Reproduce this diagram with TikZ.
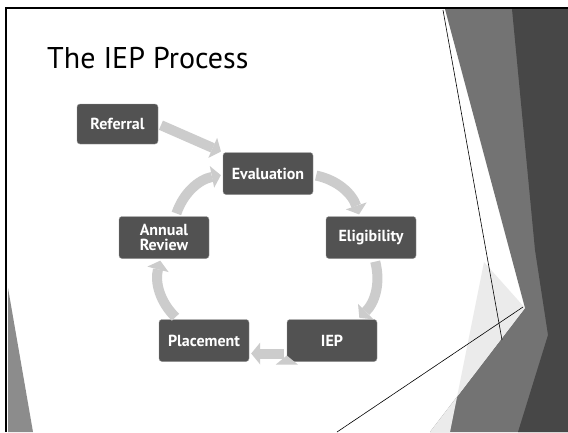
\documentclass[tikz,border=0pt]{standalone}
\usepackage{fontspec}
\setmainfont{PT Sans}
\usetikzlibrary{arrows.meta}

\begin{document}
\begin{tikzpicture}[x=1pt,y=-1pt]
  \tikzstyle{iepbox}=[rectangle,rounded corners=3pt,fill=black!68,draw=black!40,
                      text=white,font=\bfseries\fontsize{16}{15}\selectfont,
                      minimum width=90pt,minimum height=42pt,align=center,inner sep=2pt]
  \tikzstyle{cyc}=[draw=black!20,line width=10pt,
                   -{Triangle[length=9pt,width=22pt,line width=0pt,fill=black!20]},
                   shorten >=2pt,shorten <=3pt]

  \useasboundingbox (0,0) rectangle (568,432);
  \fill[white] (0,0) rectangle (568,432);

  % facets on the right and bottom left
  \fill[black!55] (445,9) -- (568,9) -- (568,432) -- (430,432) -- (525,308) -- cycle;
  \fill[black!72] (512,9) -- (568,9) -- (568,432) -- (518,432) -- (548,335) -- (535,250) -- cycle;
  \fill[black!8] (484,262) -- (525,308) -- (430,432) -- (450,432) -- cycle;
  \fill[black!45] (8,288) -- (8,432) -- (33,432) -- cycle;

  % frame and thin lines
  \draw[line width=1.2pt] (6,432) -- (6,8) -- (568,8);
  \draw[line width=0.6pt] (443,10) -- (502,340);
  \draw[line width=0.6pt] (337,432) -- (523,307);

  \node[anchor=base west,inner sep=0pt,font=\fontsize{30}{36}\selectfont]
       (title) at (47,68) {The IEP Process};

  \node[iepbox,minimum width=81pt,minimum height=40pt] (ref) at (117.5,124) {Referral};
  \node[iepbox] (eval)   at (268,173.5) {Evaluation};
  \node[iepbox] (elig)   at (371,237.5) {Eligibility};
  \node[iepbox] (iep)    at (332,340.5) {IEP};
  \node[iepbox] (place)  at (204,340.5) {Placement};
  \node[iepbox] (annual) at (164,237.5) {Annual\\Review};

  \path[cyc] (ref.east)   edge              (eval.north west)
             (eval)   edge [bend left=30] (elig)
             (elig)   edge [bend left=30] (iep)
             ([yshift=-13pt]iep.west) edge ([yshift=-13pt]place.east)
             (place)  edge [bend left=30] (annual)
             (annual) edge [bend left=30] (eval);
\end{tikzpicture}
\end{document}
